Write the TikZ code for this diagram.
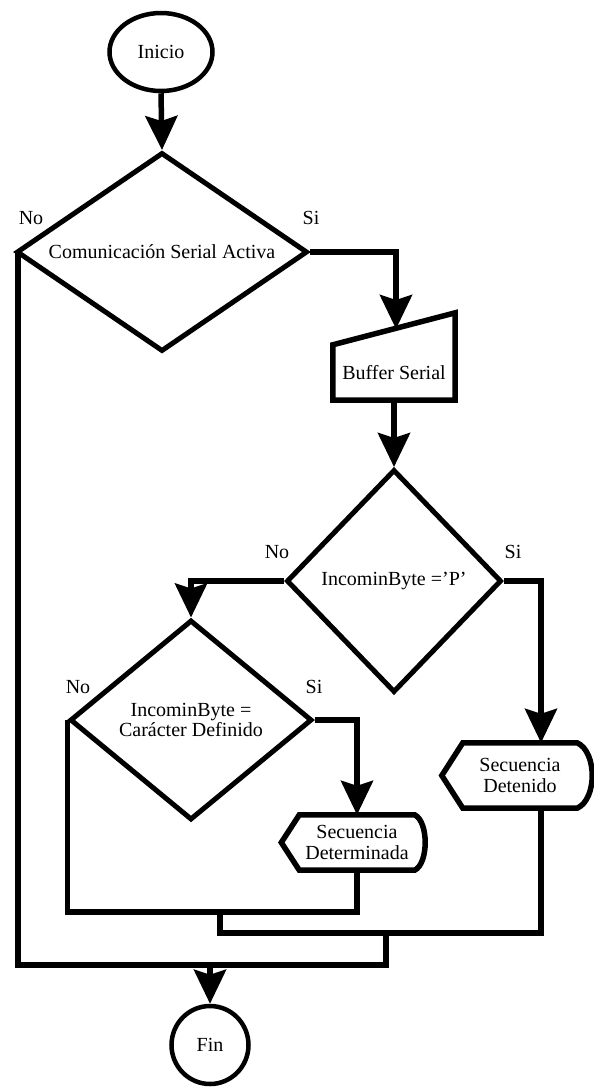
\documentclass[tikz,border=0pt]{standalone}
\usepackage{fontspec}
\setmainfont{Liberation Serif}
\usetikzlibrary{shapes.geometric,arrows.meta}

\begin{document}
\begin{tikzpicture}[x=1pt,y=-1pt,
    font=\fontsize{20}{20.5}\selectfont,
    linea/.style={line width=5.5pt},
    flecha/.style={line width=5.5pt,-{Stealth[length=34pt,width=32pt,inset=5pt]}},
    terminal/.style={ellipse,draw,line width=4.5pt,inner sep=0pt},
    decision/.style={diamond,draw,line width=5pt,inner sep=0pt,align=center},
    caja/.style={inner sep=0pt,align=center}]
    \useasboundingbox (0,0) rectangle (594,1088);
    \fill[white] (0,0) rectangle (594,1088);

    % nodos
    \node[terminal,minimum width=103pt,minimum height=78pt] (ini) at (161,52) {Inicio};
    \node[decision,aspect=1.46,minimum width=291pt,minimum height=199pt] (d1) at (162,252) {Comunicación Serial Activa};
    \node[caja,minimum width=122pt,minimum height=55pt] (buf) at (394,372.5) {Buffer Serial};
    \node[decision,minimum width=215pt,minimum height=223pt] (d2) at (394,581) {IncominByte =’P’};
    \node[decision,aspect=1.2,minimum width=242pt,minimum height=200pt] (d3) at (191,720) {IncominByte =\\Carácter Definido};
    \node[caja,minimum width=115pt,minimum height=55pt] (detm) at (357,842.5) {Secuencia\\Determinada};
    \node[caja,minimum width=114pt,minimum height=65pt] (det) at (520,775.5) {Secuencia\\Detenido};
    \node[terminal,minimum width=77pt,minimum height=78pt] (fin) at (210,1045) {Fin};

    % etiquetas
    \node (no1) at (31,218) {No};
    \node (si1) at (311,218) {Si};
    \node (no2) at (277,552) {No};
    \node (si2) at (513,552) {Si};
    \node (no3) at (78,687) {No};
    \node (si3) at (314,687) {Si};

    % puntos de union
    \coordinate (bufin) at (396,329);
    \coordinate (detin) at ([xshift=21pt]det.north);
    \coordinate (detout) at ([xshift=21pt]det.south);
    \coordinate (j1) at (357,912);
    \coordinate (j2) at (220,912);
    \coordinate (j3) at (541,933);
    \coordinate (j4) at (386,933);
    \coordinate (j5) at (18,965);

    % formas
    \draw[linea] (buf.north west) -- ([yshift=32pt]buf.north east) -- (buf.south east) -- (buf.south west) -- cycle;
    \draw[linea] ([xshift=-18pt]detm.west) -- (detm.north west) -- (detm.north east)
        .. controls ([xshift=14pt,yshift=-7pt]detm.north east) and ([xshift=14pt,yshift=7pt]detm.south east) .. (detm.south east)
        -- (detm.south west) -- cycle;
    \draw[linea] ([xshift=-21pt]det.west) -- (det.north west) -- (det.north east)
        .. controls ([xshift=20pt,yshift=-9pt]det.north east) and ([xshift=20pt,yshift=9pt]det.south east) .. (det.south east)
        -- (det.south west) -- cycle;

    % conexiones
    \draw[flecha] (ini.south) -- (d1.north);
    \draw[flecha] (d1.east) -| (bufin);
    \draw[flecha] (buf.south) -- (d2.north);
    \draw[flecha] (d2.west) -| (d3.north);
    \draw[flecha] (d2.east) -| (detin);
    \draw[flecha] (d3.east) -| (detm.north);
    \draw[linea] (d3.west) |- (j1) -- (detm.south);
    \draw[linea] (j2) |- (j3) -- (detout);
    \draw[linea] (j4) |- (j5) -- (j5 |- d1.west);
    \draw[flecha] (fin.north |- j5) -- (fin.north);
\end{tikzpicture}
\end{document}
